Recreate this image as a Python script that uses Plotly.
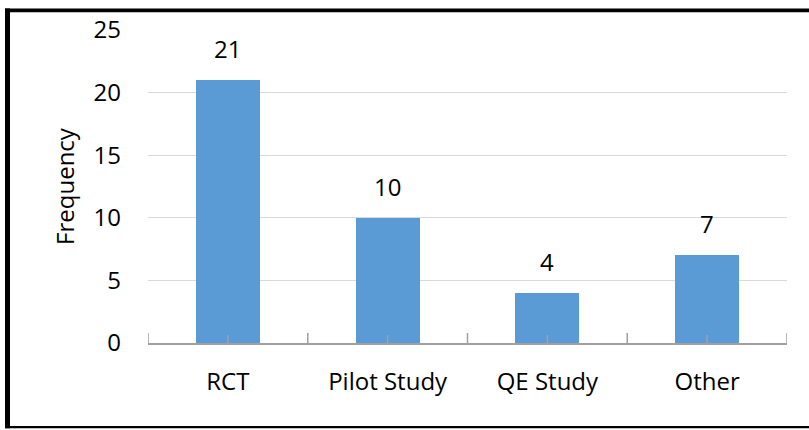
import plotly.graph_objects as go

categories = ["RCT", "Pilot Study", "QE Study", "Other"]
frequency = [21, 10, 4, 7]
y_ticks = [0, 5, 10, 15, 20, 25]

W, H = 809, 430
L, R, T, B = 148, 22, 24, 87
PW, PH = W - L - R, H - T - B

def px(x):
    return (x - L) / PW

def py(y):
    return (H - B - y) / PH

FONT = "Open Sans"
TXT = "#000000"
FS = 24

fig = go.Figure()
fig.add_trace(go.Bar(
    x=list(range(len(categories))),
    y=frequency,
    width=0.4,
    marker=dict(color="#5b9bd5", line=dict(width=0)),
    hoverinfo="skip",
))

annotations = [
    dict(x=i, y=v, xref="x", yref="y", text=str(v), showarrow=False,
         yanchor="bottom", yshift=13, font=dict(family=FONT, size=FS, color=TXT))
    for i, v in enumerate(frequency)
]

shapes = []
for i in range(len(categories) + 1):
    shapes.append(dict(type="line", xref="x", yref="y", x0=i - 0.5, x1=i - 0.5,
                       ysizemode="pixel", yanchor=0, y0=-10, y1=10,
                       line=dict(color="#a0a0a0", width=1.5)))
for i in range(len(categories)):
    shapes.append(dict(type="line", xref="x", yref="y", x0=i, x1=i,
                       ysizemode="pixel", yanchor=0, y0=-6, y1=8,
                       line=dict(color="#a0a0a0", width=1.5), layer="above"))
shapes.append(dict(type="rect", xref="paper", yref="paper",
                   x0=px(5), x1=px(10), y0=py(430), y1=py(2),
                   fillcolor="black", line=dict(width=0)))
shapes.append(dict(type="rect", xref="paper", yref="paper",
                   x0=px(5), x1=px(809), y0=py(6), y1=py(2),
                   fillcolor="black", line=dict(width=0)))
shapes.append(dict(type="rect", xref="paper", yref="paper",
                   x0=px(5), x1=px(809), y0=py(430), y1=py(427.5),
                   fillcolor="black", line=dict(width=0)))

fig.update_layout(
    width=W, height=H,
    margin=dict(l=L, r=R, t=T, b=B),
    paper_bgcolor="white", plot_bgcolor="white",
    showlegend=False,
    shapes=shapes,
    annotations=annotations,
    bargap=0,
    xaxis=dict(
        range=[-0.5, len(categories) - 0.5],
        tickmode="array",
        tickvals=list(range(len(categories))),
        ticktext=categories,
        ticks="",
        showgrid=False,
        zeroline=False,
        showline=True, linecolor="#a0a0a0", linewidth=1.5,
        tickfont=dict(family=FONT, size=FS, color=TXT),
        ticklabelstandoff=16,
        fixedrange=True,
    ),
    yaxis=dict(
        range=[0, 25],
        tickmode="array",
        tickvals=y_ticks,
        ticktext=[str(v) for v in y_ticks],
        showgrid=True, gridcolor="#d9d9d9", gridwidth=1.3,
        zeroline=False,
        showline=False,
        ticks="",
        tickfont=dict(family=FONT, size=FS, color=TXT),
        ticklabelstandoff=26,
        title=dict(text="Frequency", font=dict(family=FONT, size=FS, color=TXT), standoff=12),
        fixedrange=True,
    ),
)

fig.write_html("out.html", config={"displayModeBar": False},
               post_script="document.body.style.margin='0';document.body.style.padding='0';document.body.style.overflow='hidden';")
